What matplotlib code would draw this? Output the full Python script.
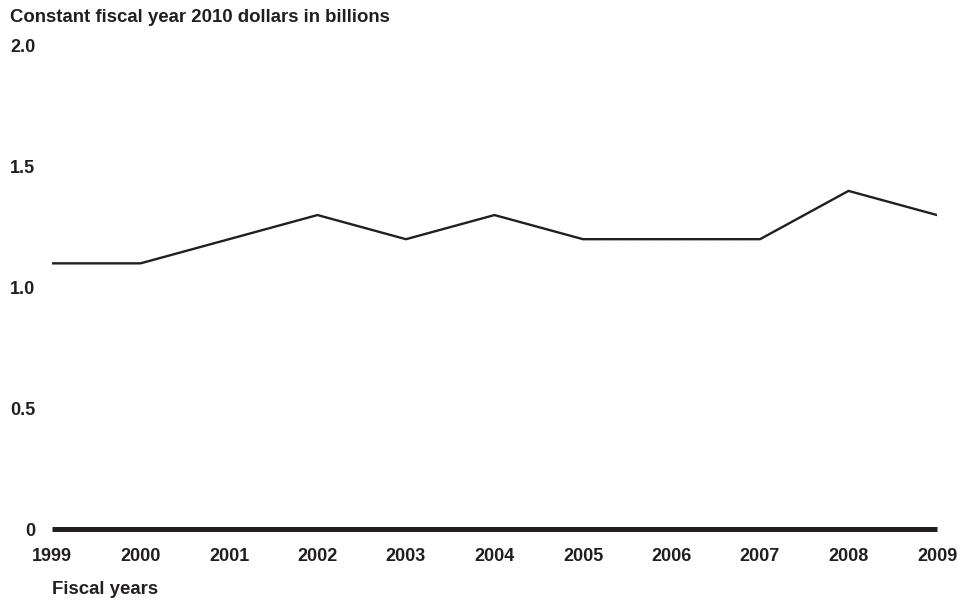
import matplotlib.pyplot as plt

years = [1999, 2000, 2001, 2002, 2003, 2004, 2005, 2006, 2007, 2008, 2009]
values = [1.1, 1.1, 1.2, 1.3, 1.2, 1.3, 1.2, 1.2, 1.2, 1.4, 1.3]
yticks = [0, 0.5, 1.0, 1.5, 2.0]
ytick_labels = ['0', '0.5', '1.0', '1.5', '2.0']

ink = '#231f20'
plt.rcParams['font.family'] = 'Liberation Sans'
plt.rcParams['font.weight'] = 'bold'

W, H = 977, 601
fig = plt.figure(figsize=(W / 100, H / 100), dpi=100)
ax = fig.add_axes([52 / W, (H - 529) / H, (937 - 52) / W, (529 - 46) / H])

ax.plot(years, values, color=ink, lw=1.7, solid_joinstyle='miter')
ax.plot([years[0], years[-1]], [0, 0], color=ink, lw=3.6,
        solid_capstyle='butt', clip_on=False)

ax.set_xlim(years[0], years[-1])
ax.set_ylim(0, 2.0)
ax.set_xticks(years)
ax.set_xticklabels([str(y) for y in years])
ax.set_yticks(yticks)
ax.set_yticklabels(ytick_labels)
ax.tick_params(axis='both', length=0, labelsize=13, colors=ink)
ax.tick_params(axis='x', pad=13.5)
ax.tick_params(axis='y', pad=12)
for s in ax.spines.values():
    s.set_visible(False)

fig.text(10 / W, 1 - 17 / H, 'Constant fiscal year 2010 dollars in billions',
         fontsize=13.4, fontweight='bold', color=ink, ha='left', va='center')
fig.text(52 / W, 1 - 589 / H, 'Fiscal years',
         fontsize=13.4, fontweight='bold', color=ink, ha='left', va='center')

fig.savefig('out.png', dpi=100)
